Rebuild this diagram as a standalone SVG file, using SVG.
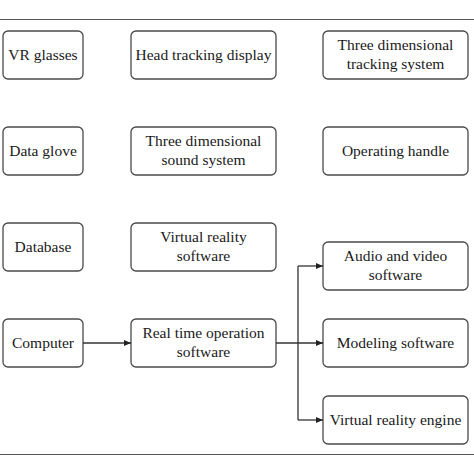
<svg xmlns="http://www.w3.org/2000/svg" width="474" height="474" viewBox="0 0 474 474">
<defs>
<style>
.box{fill:#fff;stroke:#4a4a4a;stroke-width:1.3}
.t{font-family:"Liberation Serif","Times New Roman",serif;font-size:15.5px;fill:#1a1a1a;text-anchor:middle}
.c{fill:none;stroke:#333;stroke-width:1.3}
.rule{stroke:#555;stroke-width:1.2}
</style>
<marker id="ah" markerWidth="8" markerHeight="8" refX="7" refY="4" orient="auto" markerUnits="userSpaceOnUse">
<path d="M0,1 L7,4 L0,7 Z" fill="#222"/>
</marker>
</defs>
<rect width="474" height="474" fill="#fff"/>
<line class="rule" x1="0" y1="19.5" x2="474" y2="19.5"/>
<line class="rule" x1="0" y1="454.5" x2="474" y2="454.5"/>

<g id="vr-glasses"><rect class="box" x="3" y="31" width="80" height="48" rx="5"/><text class="t" x="43" y="60">VR glasses</text></g>
<g id="head-tracking"><rect class="box" x="131" y="31" width="145" height="48" rx="5"/><text class="t" x="203.5" y="60">Head tracking display</text></g>
<g id="tracking-system"><rect class="box" x="323" y="31" width="145" height="48" rx="5"/><text class="t" x="395.5" y="50">Three dimensional</text><text class="t" x="395.5" y="68.5">tracking system</text></g>

<g id="data-glove"><rect class="box" x="3" y="127" width="80" height="48" rx="5"/><text class="t" x="43" y="156">Data glove</text></g>
<g id="sound-system"><rect class="box" x="131" y="127" width="145" height="48" rx="5"/><text class="t" x="203.5" y="146">Three dimensional</text><text class="t" x="203.5" y="164.5">sound system</text></g>
<g id="operating-handle"><rect class="box" x="323" y="127" width="145" height="48" rx="5"/><text class="t" x="395.5" y="156">Operating handle</text></g>

<g id="database"><rect class="box" x="3" y="223" width="80" height="48" rx="5"/><text class="t" x="43" y="252">Database</text></g>
<g id="vr-software"><rect class="box" x="131" y="223" width="145" height="48" rx="5"/><text class="t" x="203.5" y="242">Virtual reality</text><text class="t" x="203.5" y="260.5">software</text></g>

<g id="computer"><rect class="box" x="3" y="319" width="80" height="48" rx="5"/><text class="t" x="43" y="348">Computer</text></g>
<g id="realtime"><rect class="box" x="131" y="319" width="145" height="48" rx="5"/><text class="t" x="203.5" y="338">Real time operation</text><text class="t" x="203.5" y="356.5">software</text></g>

<g id="audio-video"><rect class="box" x="323" y="242" width="145" height="48" rx="5"/><text class="t" x="395.5" y="261">Audio and video</text><text class="t" x="395.5" y="279.5">software</text></g>
<g id="modeling"><rect class="box" x="323" y="319" width="145" height="48" rx="5"/><text class="t" x="395.5" y="348">Modeling software</text></g>
<g id="vr-engine"><rect class="box" x="323" y="396" width="145" height="48" rx="5"/><text class="t" x="395.5" y="425">Virtual reality engine</text></g>

<g id="connectors">
<line class="c" x1="83" y1="343" x2="131" y2="343" marker-end="url(#ah)"/>
<line class="c" x1="276" y1="343" x2="323" y2="343" marker-end="url(#ah)"/>
<path class="c" d="M298,266 L298,420"/>
<line class="c" x1="298" y1="266" x2="323" y2="266" marker-end="url(#ah)"/>
<line class="c" x1="298" y1="420" x2="323" y2="420" marker-end="url(#ah)"/>
</g>
</svg>
